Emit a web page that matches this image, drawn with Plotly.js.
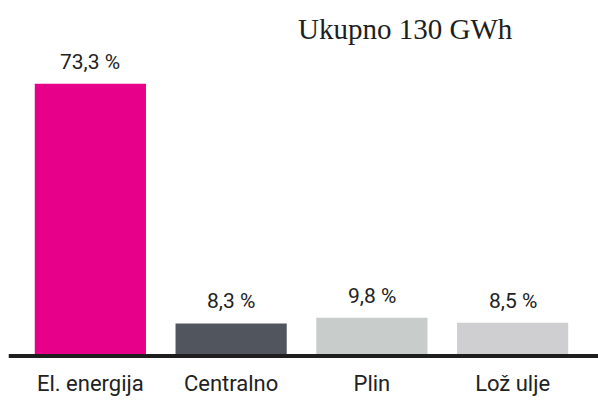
<!DOCTYPE html>
<html>
<head>
<meta charset="utf-8">
<script src="https://cdn.plot.ly/plotly-3.0.1.min.js"></script>
<style>html,body{margin:0;padding:0;background:#fff;}#chart{width:598px;height:401px;}</style>
</head>
<body>
<div id="chart"></div>
<script>
const categories = ["El. energija", "Centralno", "Plin", "Lož ulje"];
const shares = [73.3, 8.3, 9.8, 8.5];
const valueLabels = ["73,3 %", "8,3 %", "9,8 %", "8,5 %"];
const barColors = ["#e6008a", "#50555e", "#c8cdcc", "#cfcfd1"];
const titleText = "Ukupno 130 GWh";

const labelFont = {family: "Roboto, Arial, sans-serif", size: 21, color: "#222"};
const tickFont = {family: "Roboto, Arial, sans-serif", size: 22, color: "#222"};

const trace = {
  type: "bar",
  x: categories,
  y: shares,
  marker: {color: barColors},
  hoverinfo: "none"
};

const annotations = categories.map((c, i) => ({
  x: c, y: shares[i], xref: "x", yref: "y",
  text: valueLabels[i], showarrow: false,
  yanchor: "bottom", yshift: 8, font: labelFont
}));
annotations.push({
  xref: "paper", yref: "paper", x: 0.88, y: 1.0, xanchor: "right", yanchor: "bottom",
  yshift: 12, text: titleText, showarrow: false,
  font: {family: "Liberation Serif, DejaVu Serif, serif", size: 29, color: "#1e1e1e"}
});

const layout = {
  width: 598, height: 401,
  margin: {l: 20, r: 15, t: 59, b: 47},
  paper_bgcolor: "#fff", plot_bgcolor: "#fff",
  bargap: 0.21,
  showlegend: false,
  xaxis: {showgrid: false, zeroline: false, showline: false, ticks: "", tickfont: tickFont, ticklabelstandoff: 14},
  yaxis: {range: [0, 80], visible: false, fixedrange: true},
  shapes: [{type: "line", xref: "paper", yref: "paper", x0: -0.02, x1: 1.03, y0: -0.007, y1: -0.007,
            line: {color: "#1e1e1e", width: 4}}],
  annotations: annotations
};

Plotly.newPlot("chart", [trace], layout, {staticPlot: true});
</script>
</body>
</html>
